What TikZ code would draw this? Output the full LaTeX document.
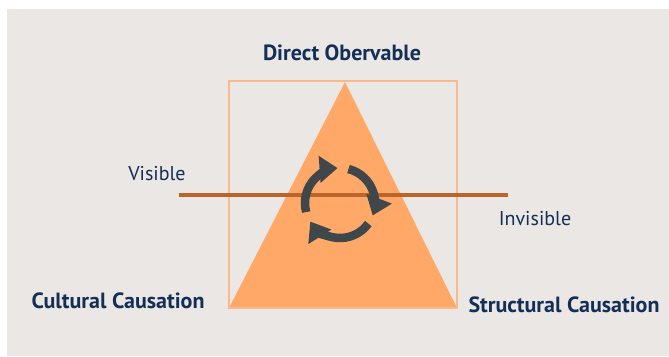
\documentclass[tikz,border=0pt]{standalone}
\usepackage{fontspec}
\setmainfont{PT Sans}
\usetikzlibrary{positioning, arrows.meta}

\definecolor{bgGrey}{HTML}{EBE7E4}
\definecolor{triOrange}{HTML}{FFA867}
\definecolor{boxOrange}{HTML}{F9B98B}
\definecolor{lineBrown}{HTML}{B9652C}
\definecolor{cycleGrey}{HTML}{3F474B}
\definecolor{labelNavy}{HTML}{132E57}

\begin{document}
\begin{tikzpicture}[
    x=1pt, y=-1pt,
    every node/.style={inner sep=0pt, text=labelNavy, font=\fontsize{20}{24}\selectfont},
    corner/.style={font=\fontsize{22}{26}\selectfont\bfseries},
    cyclearrow/.style={cycleGrey, line width=8.5pt, -{Triangle[length=18pt,width=26pt]}},
    >=Latex
]
    \def\apexY{82}
    \def\baseY{308}
    \def\lineY{195}

    \useasboundingbox (0,0) rectangle (669,356);
    \fill[bgGrey] (7,9) rectangle (669,356);

    % pyramid inside its frame
    \coordinate (apex) at (345, \apexY);
    \coordinate (baseL) at (229, \baseY);
    \coordinate (baseR) at (457, \baseY);
    \fill[triOrange] (apex) -- (baseR) -- (baseL) -- cycle;
    \draw[boxOrange, line width=1.3pt] (229, 81) rectangle (baseR);

    % visible / invisible divide
    \coordinate (lineL) at (179, \lineY);
    \coordinate (lineR) at (508, \lineY);
    \draw[lineBrown, line width=4.5pt] (lineL) -- (lineR);

    % cycle
    \coordinate (cyc) at (340, 203);
    \begin{scope}[shift={(cyc)}, yscale=-1]
        \foreach \sa/\ea in {76/-21, -36/-148, 195/94}{
            \draw[cyclearrow] (\sa:35) arc[start angle=\sa, end angle=\ea, radius=35];
        }
    \end{scope}

    \node[corner] (direct) at (342, 53) {Direct Obervable};
    \node (visible) at (157, 174) {Visible};
    \node (invisible) at (535, 219) {Invisible};
    \node[corner] (cultural) at (118, 301) {Cultural Causation};
    \node[corner] (structural) at (564, 305) {Structural Causation};
\end{tikzpicture}
\end{document}
